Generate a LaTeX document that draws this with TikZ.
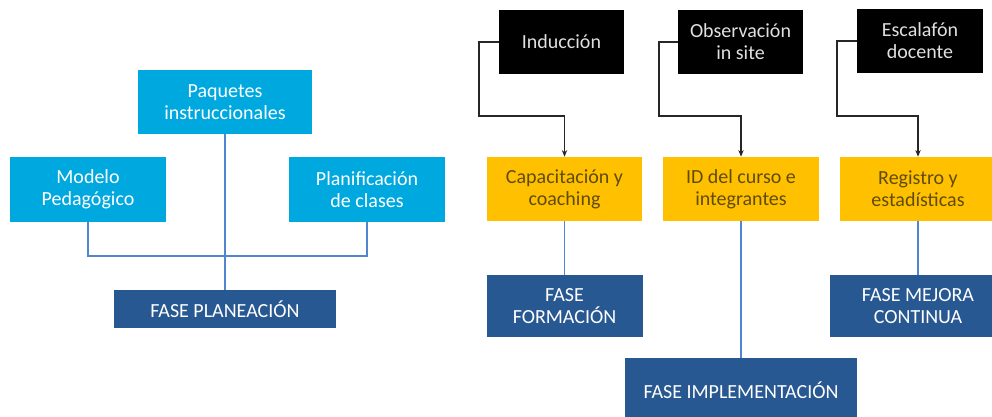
\documentclass[tikz,border=0pt]{standalone}
\usepackage{fontspec}
\setmainfont{Carlito}
\usetikzlibrary{arrows.meta, positioning}
\definecolor{celeste}{RGB}{0,168,224}
\definecolor{amarillo}{RGB}{255,192,0}
\definecolor{azulfase}{RGB}{40,88,145}
\definecolor{linea}{RGB}{79,134,207}
\definecolor{textoam}{RGB}{96,76,10}
\tikzstyle{caja}=[rectangle, inner sep=0pt, align=center, font=\fontsize{15}{16.5}\selectfont]
\tikzstyle{paquete}=[caja, fill=celeste, text=white, minimum width=130.5pt, minimum height=48pt]
\tikzstyle{actividad}=[caja, fill=black, text=white!88!black, minimum width=94pt, minimum height=48pt]
\tikzstyle{proceso}=[caja, fill=amarillo, text=textoam, minimum width=116.5pt, minimum height=48pt]
\tikzstyle{fase}=[caja, fill=azulfase, text=white]
\tikzstyle{enlace}=[draw=linea, line width=1pt]
\tikzstyle{flecha}=[draw=black!85, line width=1pt, -{Stealth[length=5pt,width=4pt]}]

\begin{document}
\begin{tikzpicture}[x=0.75pt, y=-0.75pt]
  \useasboundingbox (0,0) rectangle (992,417);
  % fase planeacion
  \node[paquete] (paq) at (225,102) {Paquetes\\instruccionales};
  \node[paquete, minimum width=117pt] (mod) at (88,189.5) {Modelo\\Pedagógico};
  \node[paquete, minimum width=117pt] (pla) at (367,189.5) {Planificación\\de clases};
  \node[fase, minimum width=166pt, minimum height=28.5pt] (fpl) at (225,309) {FASE PLANEACIÓN};
  \coordinate (c1) at (225,256);
  \path[enlace] (mod.south) |- (c1) -| (pla.south);
  \path[enlace] (paq.south) -- (fpl.north);
  % actividades
  \node[actividad] (ind) at (561.5,42) {Inducción};
  \node[actividad] (obs) at (740.5,42) {Observación\\in site};
  \node[actividad] (esc) at (920,41) {Escalafón\\docente};
  \node[proceso] (cap) at (564.5,189) {Capacitación y\\coaching};
  \node[proceso] (idc) at (741,189) {ID del curso e\\integrantes};
  \node[proceso] (reg) at (918,189) {Registro y\\estadísticas};
  \coordinate (k1) at (479,116);
  \coordinate (k2) at (659,116);
  \coordinate (k3) at (837,116);
  \path[flecha] (ind.west) -| (k1) -| (cap.north);
  \path[flecha] (obs.west) -| (k2) -| (idc.north);
  \path[flecha] (esc.west) -| (k3) -| (reg.north);
  % fases
  \node[fase, minimum width=117pt, minimum height=46.5pt] (ffo) [below=40pt of cap] {FASE\\FORMACIÓN};
  \node[fase, minimum width=132pt, minimum height=46.5pt] (fme) [below=40pt of reg] {FASE MEJORA\\CONTINUA};
  \node[fase, minimum width=174pt, minimum height=48pt] (fim) at (741,390) {FASE IMPLEMENTACIÓN};
  \path[enlace] (cap.south) -- (ffo.north);
  \path[enlace] (idc.south) -- (fim.north);
  \path[enlace] (reg.south) -- (fme.north);
\end{tikzpicture}
\end{document}
